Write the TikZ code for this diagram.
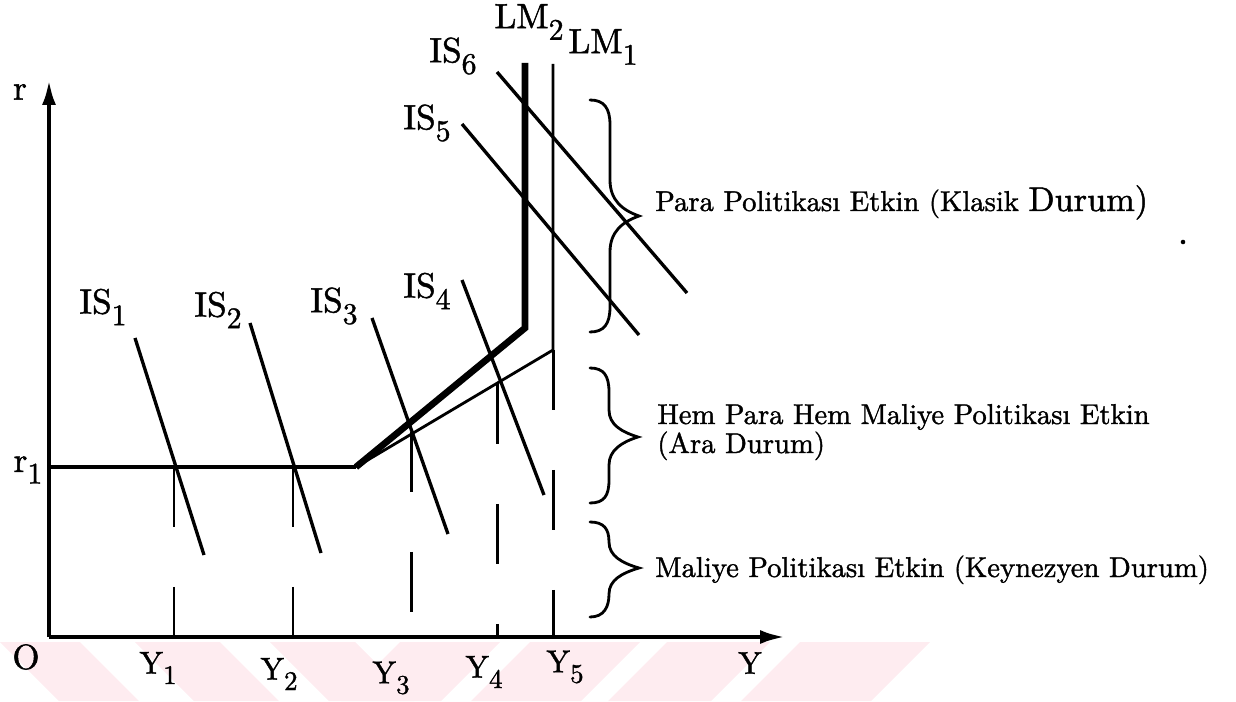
\documentclass[tikz,border=0pt]{standalone}
\usepackage{fontspec}
\setmainfont{lmroman10-regular.otf}[FakeBold=1.3]
\usetikzlibrary{arrows.meta}
\definecolor{wm}{RGB}{254,236,240}
\newcommand{\lowsub}[1]{\raisebox{-0.33em}{\scalebox{0.85}{#1}}}
\tikzset{
  lbl/.style={inner sep=0pt, font=\fontsize{20}{24}\selectfont},
  axlbl/.style={inner sep=0pt, font=\fontsize{18}{22}\selectfont},
  txt/.style={inner sep=0pt, anchor=base west, font=\fontsize{16.3}{19}\selectfont},
  axisline/.style={line width=2.3pt, -{Latex[length=0.5cm,width=0.28cm]}},
  isline/.style={line width=1.9pt},
  lmthick/.style={line width=3.8pt, line join=miter},
  lmthin/.style={line width=1.6pt},
  guide/.style={line width=1.7pt, dash pattern=on 1.2cm off 1.2cm},
  bracestyle/.style={line width=1.6pt, line cap=round},
  wmark/.style={fill=wm, draw=none},
}
\begin{document}
\begin{tikzpicture}[x=0.02cm, y=-0.02cm]
\useasboundingbox (0,0) rectangle (1236,702);
% faint watermark band
\fill[wmark] (0,642) -- (80,642) -- (139,701) -- (59,701) -- cycle;
\fill[wmark] (135,642) -- (220,642) -- (279,701) -- (194,701) -- cycle;
\fill[wmark] (270,642) -- (355,642) -- (414,701) -- (329,701) -- cycle;
\fill[wmark] (400,642) -- (500,642) -- (441,701) -- (341,701) -- cycle;
\fill[wmark] (530,642) -- (640,642) -- (581,701) -- (471,701) -- cycle;
\fill[wmark] (667,642) -- (770,642) -- (711,701) -- (608,701) -- cycle;
\fill[wmark] (800,642) -- (930,642) -- (871,701) -- (741,701) -- cycle;

% coordinates
\coordinate (O) at (49,637);
\coordinate (ytop) at (49,80);
\coordinate (xend) at (785,637);
\coordinate (r1a) at (49,467);
\coordinate (K) at (356,467);
\coordinate (lm2k) at (525,328);
\coordinate (lm2t) at (525,63);
\coordinate (lm1k) at (553,350);
\coordinate (lm1t) at (553,64);

% guides (dashed)
\coordinate (g1t) at (174,467); \coordinate (g1b) at (174,637);
\coordinate (g2t) at (293,467); \coordinate (g2b) at (293,637);
\coordinate (g3t) at (411,432); \coordinate (g3b) at (411,637);
\coordinate (g4t) at (497,384); \coordinate (g4b) at (497,637);
\coordinate (g5b) at (553,637);
\draw[guide] (g1t) -- (g1b);
\draw[guide] (g2t) -- (g2b);
\draw[guide] (g3t) -- (g3b);
\draw[guide] (g4t) -- (g4b);
\draw[guide] (lm1k) -- (g5b);

% axes
\draw[axisline] (O) -- (ytop);
\draw[axisline] (O) -- (xend);

% r1 line and LM curves
\draw[lmthin, line width=1.8pt] (r1a) -- (K);
\draw[lmthin] (K) -- (lm1k) -- (lm1t);
\draw[lmthick] (K) -- (lm2k) -- (lm2t);

% IS curves
\coordinate (is1a) at (135,338); \coordinate (is1b) at (204,555);
\coordinate (is2a) at (250,323); \coordinate (is2b) at (321,553);
\coordinate (is3a) at (372,318); \coordinate (is3b) at (448,534);
\coordinate (is4a) at (462,280); \coordinate (is4b) at (544,495);
\coordinate (is5a) at (462,124); \coordinate (is5b) at (639,335);
\coordinate (is6a) at (497,72);  \coordinate (is6b) at (687,293);
\draw[isline] (is1a) -- (is1b);
\draw[isline] (is2a) -- (is2b);
\draw[isline] (is3a) -- (is3b);
\draw[isline] (is4a) -- (is4b);
\draw[isline] (is5a) -- (is5b);
\draw[isline] (is6a) -- (is6b);

% curve labels
\node[lbl] (lis1) at (103,307) {IS\lowsub{1}};
\node[lbl] (lis2) at (218,310) {IS\lowsub{2}};
\node[lbl] (lis3) at (334,306) {IS\lowsub{3}};
\node[lbl] (lis4) at (427,291) {IS\lowsub{4}};
\node[lbl] (lis5) at (427,123) {IS\lowsub{5}};
\node[lbl] (lis6) at (453,56) {IS\lowsub{6}};
\node[lbl] (llm2) at (529,22) {LM\lowsub{2}};
\node[lbl] (llm1) at (603,47) {LM\lowsub{1}};

% axis labels
\node[lbl] (lr) at (20,92) {r};
\node[lbl] (lr1) at (28,470) {r\lowsub{1}};
\node[lbl] (lO) at (26,657) {O};
\node[axlbl] (lY1) at (158,668) {Y\lowsub{1}};
\node[axlbl] (lY2) at (279,674) {Y\lowsub{2}};
\node[axlbl] (lY3) at (391,678) {Y\lowsub{3}};
\node[axlbl] (lY4) at (484,672) {Y\lowsub{4}};
\node[axlbl] (lY5) at (565,667) {Y\lowsub{5}};
\node[axlbl] (lY) at (750,663) {Y};

% braces
\draw[bracestyle] (590,100) .. controls (604,100) and (610,108) .. (610,125)
  -- (610,180) .. controls (610,200) and (622,210) .. (639,216)
  .. controls (622,222) and (610,232) .. (610,252)
  -- (610,307) .. controls (610,324) and (604,332) .. (590,332);
\draw[bracestyle] (590,368) .. controls (604,368) and (609,376) .. (609,392)
  -- (609,410) .. controls (609,425) and (622,432) .. (638,437)
  .. controls (622,442) and (609,450) .. (609,465)
  -- (609,480) .. controls (609,496) and (604,503) .. (590,503);
\draw[bracestyle] (590,522) .. controls (604,522) and (609,529) .. (609,542)
  .. controls (609,556) and (622,563) .. (639,568)
  .. controls (622,573) and (609,580) .. (609,594)
  .. controls (609,607) and (604,617) .. (590,617);

% brace texts
\node[txt] (para) at (655,211) {Para Politikası Etkin (Klasik {\fontsize{19.5}{22}\selectfont Durum)}};
\node[txt] (hem) at (657,424) {Hem Para Hem Maliye Politikası Etkin};
\node[txt] (ara) at (657,453) {(Ara Durum)};
\node[txt] (mal) at (655,577) {Maliye Politikası Etkin (Keynezyen Durum)};

% stray dot
\fill (1183,242) circle (1.3pt);
\end{tikzpicture}
\end{document}
